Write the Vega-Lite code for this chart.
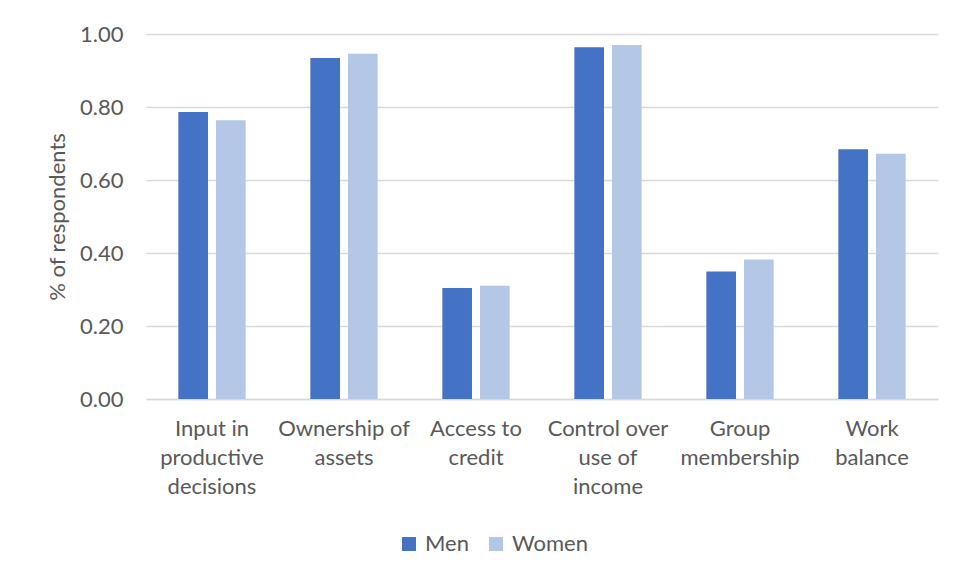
{
  "$schema": "https://vega.github.io/schema/vega-lite/v6.json",
  "width": 792,
  "height": 365,
  "autosize": "none",
  "padding": {"left": 146, "top": 34, "right": 19, "bottom": 181},
  "background": "white",
  "config": {
    "view": {"stroke": null},
    "font": "Lato",
    "axis": {"labelColor": "#595959", "titleColor": "#595959", "labelFontSize": 22, "titleFontSize": 22, "titleFontWeight": "normal"},
    "legend": {"labelColor": "#595959", "labelFontSize": 22}
  },
  "data": {
    "values": [
      {"indicator": "Input in productive decisions", "gender": "Men", "share": 0.786},
      {"indicator": "Input in productive decisions", "gender": "Women", "share": 0.764},
      {"indicator": "Ownership of assets", "gender": "Men", "share": 0.934},
      {"indicator": "Ownership of assets", "gender": "Women", "share": 0.946},
      {"indicator": "Access to credit", "gender": "Men", "share": 0.304},
      {"indicator": "Access to credit", "gender": "Women", "share": 0.310},
      {"indicator": "Control over use of income", "gender": "Men", "share": 0.964},
      {"indicator": "Control over use of income", "gender": "Women", "share": 0.970},
      {"indicator": "Group membership", "gender": "Men", "share": 0.349},
      {"indicator": "Group membership", "gender": "Women", "share": 0.382},
      {"indicator": "Work balance", "gender": "Men", "share": 0.684},
      {"indicator": "Work balance", "gender": "Women", "share": 0.672}
    ]
  },
  "mark": {"type": "bar"},
  "encoding": {
    "x": {
      "field": "indicator",
      "type": "nominal",
      "sort": null,
      "scale": {"paddingInner": 0.49, "paddingOuter": 0.245},
      "axis": {
        "title": null,
        "labelAngle": 0,
        "ticks": false,
        "domain": true,
        "domainColor": "#D9D9D9",
        "domainWidth": 1.3,
        "labelPadding": 19,
        "labelBaseline": "top",
        "labelLineHeight": 29,
        "labelLimit": 200,
        "labelExpr": "{'Input in productive decisions': ['Input in', 'productive', 'decisions'], 'Ownership of assets': ['Ownership of', 'assets'], 'Access to credit': ['Access to', 'credit'], 'Control over use of income': ['Control over', 'use of', 'income'], 'Group membership': ['Group', 'membership'], 'Work balance': ['Work', 'balance']}[datum.value]"
      }
    },
    "xOffset": {
      "field": "gender",
      "type": "nominal",
      "sort": ["Men", "Women"],
      "scale": {"paddingInner": 0.213, "paddingOuter": 0}
    },
    "y": {
      "field": "share",
      "type": "quantitative",
      "scale": {"domain": [0, 1], "nice": false},
      "axis": {
        "title": "% of respondents",
        "values": [0, 0.2, 0.4, 0.6, 0.8, 1],
        "format": ".2f",
        "grid": true,
        "gridColor": "#D9D9D9",
        "gridWidth": 1.3,
        "domain": false,
        "ticks": false,
        "labelPadding": 23,
        "titleAngle": 270,
        "titleX": -89,
        "titleY": 182.5,
        "titleAlign": "center",
        "titleBaseline": "middle"
      }
    },
    "color": {
      "field": "gender",
      "type": "nominal",
      "scale": {"domain": ["Men", "Women"], "range": ["#4472C4", "#B4C7E7"]},
      "legend": {
        "title": null,
        "orient": "none",
        "direction": "horizontal",
        "legendX": 252,
        "legendY": 499,
        "padding": 0,
        "symbolType": "square",
        "symbolSize": 196,
        "symbolStrokeWidth": 0,
        "labelOffset": 5,
        "columnPadding": 16
      }
    }
  }
}
